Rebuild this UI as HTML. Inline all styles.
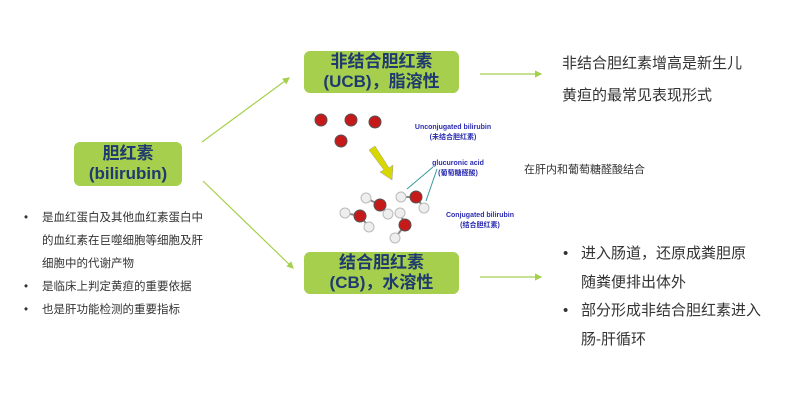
<!DOCTYPE html>
<html><head><meta charset="utf-8"><style>
body{margin:0;width:800px;height:400px;background:#fff;position:relative;overflow:hidden;font-family:"Liberation Sans","Noto Sans CJK SC",sans-serif;}
.box{position:absolute;background:#a5cf4c;border-radius:6px;color:#1f3a6e;font-weight:bold;text-align:center;font-size:17px;line-height:20px;}
.t{position:absolute;color:#333;white-space:nowrap;}
.sm{position:absolute;color:#2b2bb0;font-size:7px;font-weight:bold;white-space:nowrap;text-align:center;}
</style></head><body>
<svg width="800" height="400" style="position:absolute;left:0;top:0">
<defs><marker id="a" markerWidth="6" markerHeight="6" refX="5" refY="3" orient="auto"><path d="M0,0L6,3L0,6z" fill="#a5cf4c"/></marker></defs>
<g stroke="#a5cf4c" stroke-width="1.2" fill="none" marker-end="url(#a)">
<line x1="202" y1="142" x2="289" y2="78"/>
<line x1="203" y1="181" x2="293" y2="268"/>
<line x1="480" y1="74" x2="541" y2="74"/>
<line x1="480" y1="277" x2="541" y2="277"/>
</g>
<polygon points="369,150 375,146 389,168 393,165 392,180 380,172 384,170" fill="#d8d800" stroke="#999" stroke-width="0.5"/>
<g stroke="#3a9a9a" stroke-width="1"><line x1="407" y1="189" x2="433" y2="167"/><line x1="426" y1="201" x2="437" y2="169"/></g>
<g fill="#c61a1a" stroke="#555" stroke-width="1">
<circle cx="321" cy="120" r="6"/><circle cx="351" cy="120" r="6"/><circle cx="375" cy="122" r="6"/><circle cx="341" cy="141" r="6"/>
</g>
<g stroke="#888" stroke-width="2">
<line x1="366" y1="198" x2="380" y2="205"/><line x1="380" y1="205" x2="388" y2="214"/>
<line x1="345" y1="213" x2="360" y2="216"/><line x1="360" y1="216" x2="369" y2="227"/>
<line x1="401" y1="197" x2="416" y2="197"/><line x1="416" y1="197" x2="424" y2="208"/>
<line x1="400" y1="213" x2="405" y2="225"/><line x1="405" y1="225" x2="395" y2="238"/>
</g>
<g fill="#eee" stroke="#bbb"><circle cx="366" cy="198" r="5"/><circle cx="388" cy="214" r="5"/><circle cx="345" cy="213" r="5"/><circle cx="369" cy="227" r="5"/><circle cx="401" cy="197" r="5"/><circle cx="424" cy="208" r="5"/><circle cx="400" cy="213" r="5"/><circle cx="395" cy="238" r="5"/></g>
<g fill="#c61a1a" stroke="#555"><circle cx="380" cy="205" r="6"/><circle cx="360" cy="216" r="6"/><circle cx="416" cy="197" r="6"/><circle cx="405" cy="225" r="6"/></g>
</svg>
<div class="box" style="left:74px;top:142px;width:108px;height:44px;padding-top:2px;box-sizing:border-box">胆红素<br>(bilirubin)</div>
<div class="box" style="left:304px;top:51px;width:155px;height:42px;padding-top:1px;box-sizing:border-box">非结合胆红素<br>(UCB)，脂溶性</div>
<div class="box" style="left:304px;top:252px;width:155px;height:42px;padding-top:1px;box-sizing:border-box">结合胆红素<br>(CB)，水溶性</div>
<div class="sm" style="left:398px;top:124px;width:110px">Unconjugated bilirubin<br><span style="line-height:14px">(未结合胆红素)</span></div>
<div class="sm" style="left:428px;top:160px;width:60px">glucuronic acid<br><span style="line-height:14px">(葡萄糖醛酸)</span></div>
<div class="sm" style="left:440px;top:212px;width:80px">Conjugated bilirubin<br><span style="line-height:14px">(结合胆红素)</span></div>
<div class="t" style="left:524px;top:161px;font-size:11px">在肝内和葡萄糖醛酸结合</div>
<div class="t" style="left:562px;top:48px;font-size:15px;line-height:32px">非结合胆红素增高是新生儿<br>黄疸的最常见表现形式</div>
<div class="t" style="left:24px;top:207px;font-size:11.5px;line-height:23px">•<br>&nbsp;<br>&nbsp;<br>•<br>•</div>
<div class="t" style="left:42px;top:207px;font-size:11.5px;line-height:23px">是血红蛋白及其他血红素蛋白中<br>的血红素在巨噬细胞等细胞及肝<br>细胞中的代谢产物<br>是临床上判定黄疸的重要依据<br>也是肝功能检测的重要指标</div>
<div class="t" style="left:563px;top:240px;font-size:15px;line-height:28.5px">•<br>&nbsp;<br>•</div>
<div class="t" style="left:581px;top:240px;font-size:15px;line-height:28.5px">进入肠道，还原成粪胆原<br>随粪便排出体外<br>部分形成非结合胆红素进入<br>肠-肝循环</div>
</body></html>
